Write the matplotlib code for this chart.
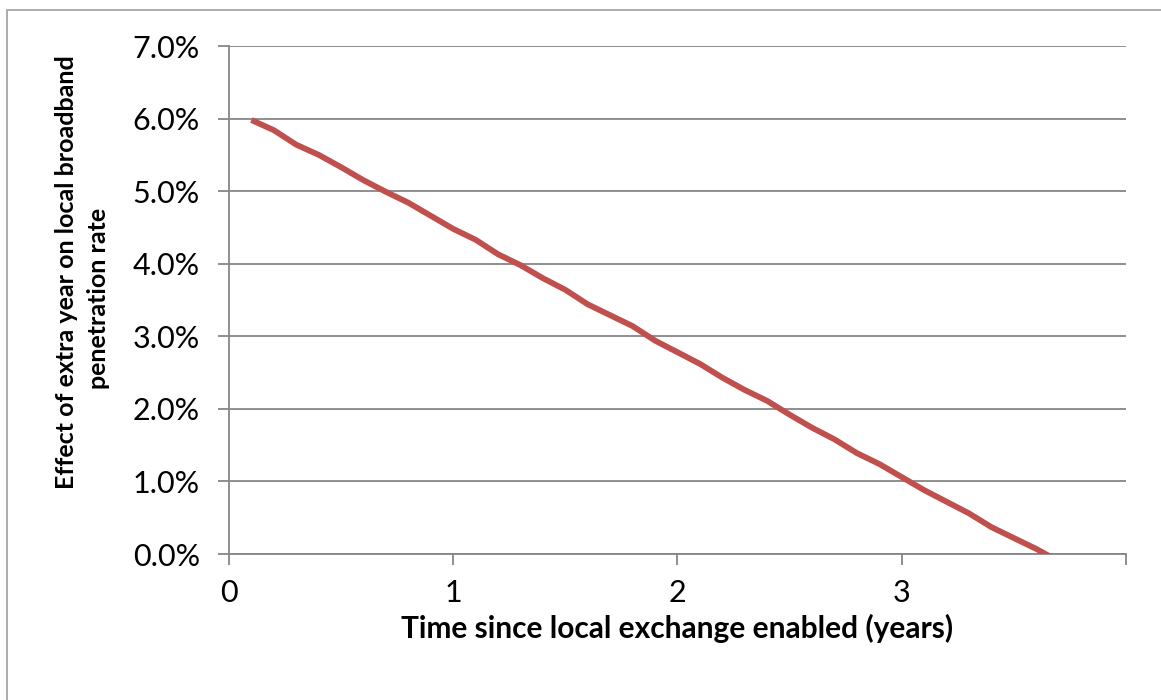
import matplotlib.pyplot as plt
import matplotlib.patches as mpatches
from matplotlib.ticker import FuncFormatter, MultipleLocator

# Years since the local exchange was enabled
years = [0.1, 0.2, 0.3, 0.4, 0.5, 0.6, 0.7, 0.8, 0.9, 1.0,
         1.1, 1.2, 1.3, 1.4, 1.5, 1.6, 1.7, 1.8, 1.9, 2.0,
         2.1, 2.2, 2.3, 2.4, 2.5, 2.6, 2.7, 2.8, 2.9, 3.0,
         3.1, 3.2, 3.3, 3.4, 3.5, 3.6, 3.7]

# Effect of one more year on the penetration rate (%)
effect = [5.98, 5.84, 5.64, 5.50, 5.33, 5.15, 4.99, 4.84, 4.66, 4.48,
          4.33, 4.13, 3.98, 3.80, 3.64, 3.44, 3.29, 3.14, 2.94, 2.78,
          2.62, 2.43, 2.26, 2.11, 1.92, 1.74, 1.58, 1.39, 1.24, 1.06,
          0.88, 0.72, 0.56, 0.37, 0.22, 0.07, -0.10]

x_ticks = [0, 1, 2, 3, 4]
x_labels = ['0', '1', '2', '3', '']

GRID = '#868686'
LINE = '#C0504D'
W, H = 1161, 700

plt.rcParams['font.family'] = ['Lato', 'DejaVu Sans']

fig = plt.figure(figsize=(W / 100, H / 100), dpi=100)
ax = fig.add_axes([229 / W, 1 - 554 / H, (1126 - 229) / W, (554 - 46) / H])

# chart border
fig.patches.append(mpatches.Rectangle((7 / W, -0.05), 1.1, 1 - 10 / H + 0.05,
                                      transform=fig.transFigure, fill=False,
                                      edgecolor='#A6A6A6', linewidth=1.3))

ax.plot(years, effect, color=LINE, linewidth=4.2, solid_capstyle='butt', zorder=3)

ax.set_xlim(0, 4)
ax.set_ylim(0, 7)
ax.set_xticks(x_ticks)
ax.set_xticklabels(x_labels)
ax.yaxis.set_major_locator(MultipleLocator(1))
ax.yaxis.set_major_formatter(FuncFormatter(lambda v, p: f'{v:.1f}%'))

ax.grid(axis='y', color=GRID, linewidth=1.3)
ax.set_axisbelow(True)
for side in ['top', 'right']:
    ax.spines[side].set_visible(False)
for side in ['left', 'bottom']:
    ax.spines[side].set_color(GRID)
    ax.spines[side].set_linewidth(1.3)

ax.tick_params(axis='both', colors=GRID, labelcolor='black', labelsize=22,
               length=8, width=1.3, direction='out')
ax.tick_params(axis='x', pad=10)
ax.tick_params(axis='y', pad=13)

# axis titles
fig.text(677 / W, 1 - 628 / H, 'Time since local exchange enabled (years)',
         fontsize=21.5, fontweight='bold', ha='center', va='center')
fig.text(67 / W, 1 - 272 / H, 'Effect of extra year on local broadband',
         fontsize=18, fontweight='bold', rotation=90, ha='center', va='center')
fig.text(98 / W, 1 - 298 / H, 'penetration rate',
         fontsize=18, fontweight='bold', rotation=90, ha='center', va='center')

fig.savefig('out.png', dpi=100, facecolor='white')
